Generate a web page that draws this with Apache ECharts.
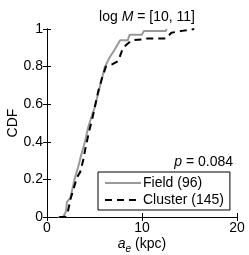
<!DOCTYPE html>
<html><head><meta charset="utf-8">
<script src="https://cdn.jsdelivr.net/npm/echarts@6/dist/echarts.min.js"></script>
<style>html,body{margin:0;padding:0;background:#fff}#c{width:249px;height:255px}</style>
</head><body><div id="c"></div>
<script>
const fieldX = [1.2,1.7,1.8,2.0,2.1,2.45,2.9,3.3,3.6,4.0,4.3,4.6,5.0,5.3,5.6,5.9,6.1,6.6,7.0,7.7,8.5,8.7,10.0,10.2,12.5,12.6];
const fieldY = [0,0,0.01,0.03,0.08,0.1,0.2,0.27,0.33,0.4,0.47,0.52,0.58,0.64,0.7,0.76,0.8,0.85,0.88,0.94,0.94,0.97,0.97,0.99,0.99,1.0];
const clusterX = [1.3,1.9,2.2,2.5,2.8,3.15,3.5,3.8,4.1,4.5,4.8,5.1,5.4,5.8,6.2,6.8,7.5,8.0,8.9,10.0,10.3,12.5,13.1,14.2,15.5];
const clusterY = [0,0,0.03,0.1,0.15,0.21,0.24,0.3,0.38,0.47,0.53,0.6,0.67,0.74,0.8,0.81,0.83,0.9,0.94,0.945,0.95,0.95,0.98,0.99,1.0];
const seriesNames = ['Field (96)', 'Cluster (145)'];
const pText = '= 0.084';

const font = 'Liberation Sans, Arial, sans-serif';
const chart = echarts.init(document.getElementById('c'));
const axisBase = {
  axisLine: {show: true, lineStyle: {color: '#000', width: 1}},
  axisTick: {show: true, inside: true, length: 4, lineStyle: {color: '#000'}},
  splitLine: {show: false}
};
chart.setOption({
  animation: false,
  backgroundColor: '#fff',
  grid: {left: 47, right: 12, top: 29, bottom: 38, containLabel: false, outerBoundsMode: 'none'},
  title: {
    text: 'log {i|M} = [10, 11]', left: 142, top: 5, textAlign: 'center',
    textStyle: {fontFamily: font, fontSize: 14, fontWeight: 'normal', color: '#000',
      rich: {i: {fontStyle: 'italic', fontFamily: font, fontSize: 14}}}
  },
  xAxis: [
    Object.assign({type: 'value', min: 0, max: 20, interval: 10, position: 'bottom',
      name: '{i|a}{s|e} (kpc)', nameLocation: 'middle', nameGap: 17, nameMoveOverlap: false,
      nameTextStyle: {fontFamily: font, fontSize: 14, color: '#000',
        rich: {i: {fontStyle: 'italic', fontFamily: font, fontSize: 14}, s: {fontStyle: 'italic', fontFamily: font, fontSize: 10, verticalAlign: 'bottom', padding: [10,0,0,0]}}},
      axisLabel: {fontFamily: font, fontSize: 14, color: '#000', margin: 4}}, axisBase),
    Object.assign({type: 'value', min: 0, max: 20, interval: 10, position: 'top',
      axisLabel: {show: false}}, axisBase)
  ],
  yAxis: [
    Object.assign({type: 'value', min: 0, max: 1, interval: 0.2, position: 'left',
      name: 'CDF', nameLocation: 'middle', nameGap: 27, nameRotate: 90, nameMoveOverlap: false,
      nameTextStyle: {fontFamily: font, fontSize: 14, color: '#000'},
      axisLabel: {fontFamily: font, fontSize: 14, color: '#000', margin: 4,
        formatter: v => (Math.round(v*10)/10).toString()}}, axisBase),
    Object.assign({type: 'value', min: 0, max: 1, interval: 0.2, position: 'right',
      axisLabel: {show: false}}, axisBase)
  ],
  legend: {
    orient: 'vertical', left: 98, top: 172,
    backgroundColor: '#fff', borderColor: '#000', borderWidth: 1, borderRadius: 0,
    padding: [4, 6, 3, 6], itemGap: 3, itemWidth: 36, itemHeight: 13,
    itemStyle: {opacity: 0},
    textStyle: {fontFamily: font, fontSize: 14, color: '#000', padding: [0,0,0,-3]},
    data: seriesNames
  },
  graphic: [{
    type: 'text', right: 16, top: 155,
    style: {text: '{i|p} ' + pText, font: '14px ' + font, fill: '#000',
      rich: {i: {fontStyle: 'italic', fontFamily: font, fontSize: 14}}}
  }],
  series: [
    {name: seriesNames[0], type: 'line', showSymbol: false, symbol: 'none',
      data: fieldX.map((x, i) => [x, fieldY[i]]),
      lineStyle: {color: '#999', width: 2}, itemStyle: {color: '#999'}},
    {name: seriesNames[1], type: 'line', showSymbol: false, symbol: 'none',
      data: clusterX.map((x, i) => [x, clusterY[i]]),
      lineStyle: {color: '#000', width: 2, type: [7, 5]}, itemStyle: {color: '#000'}}
  ]
});
</script></body></html>
